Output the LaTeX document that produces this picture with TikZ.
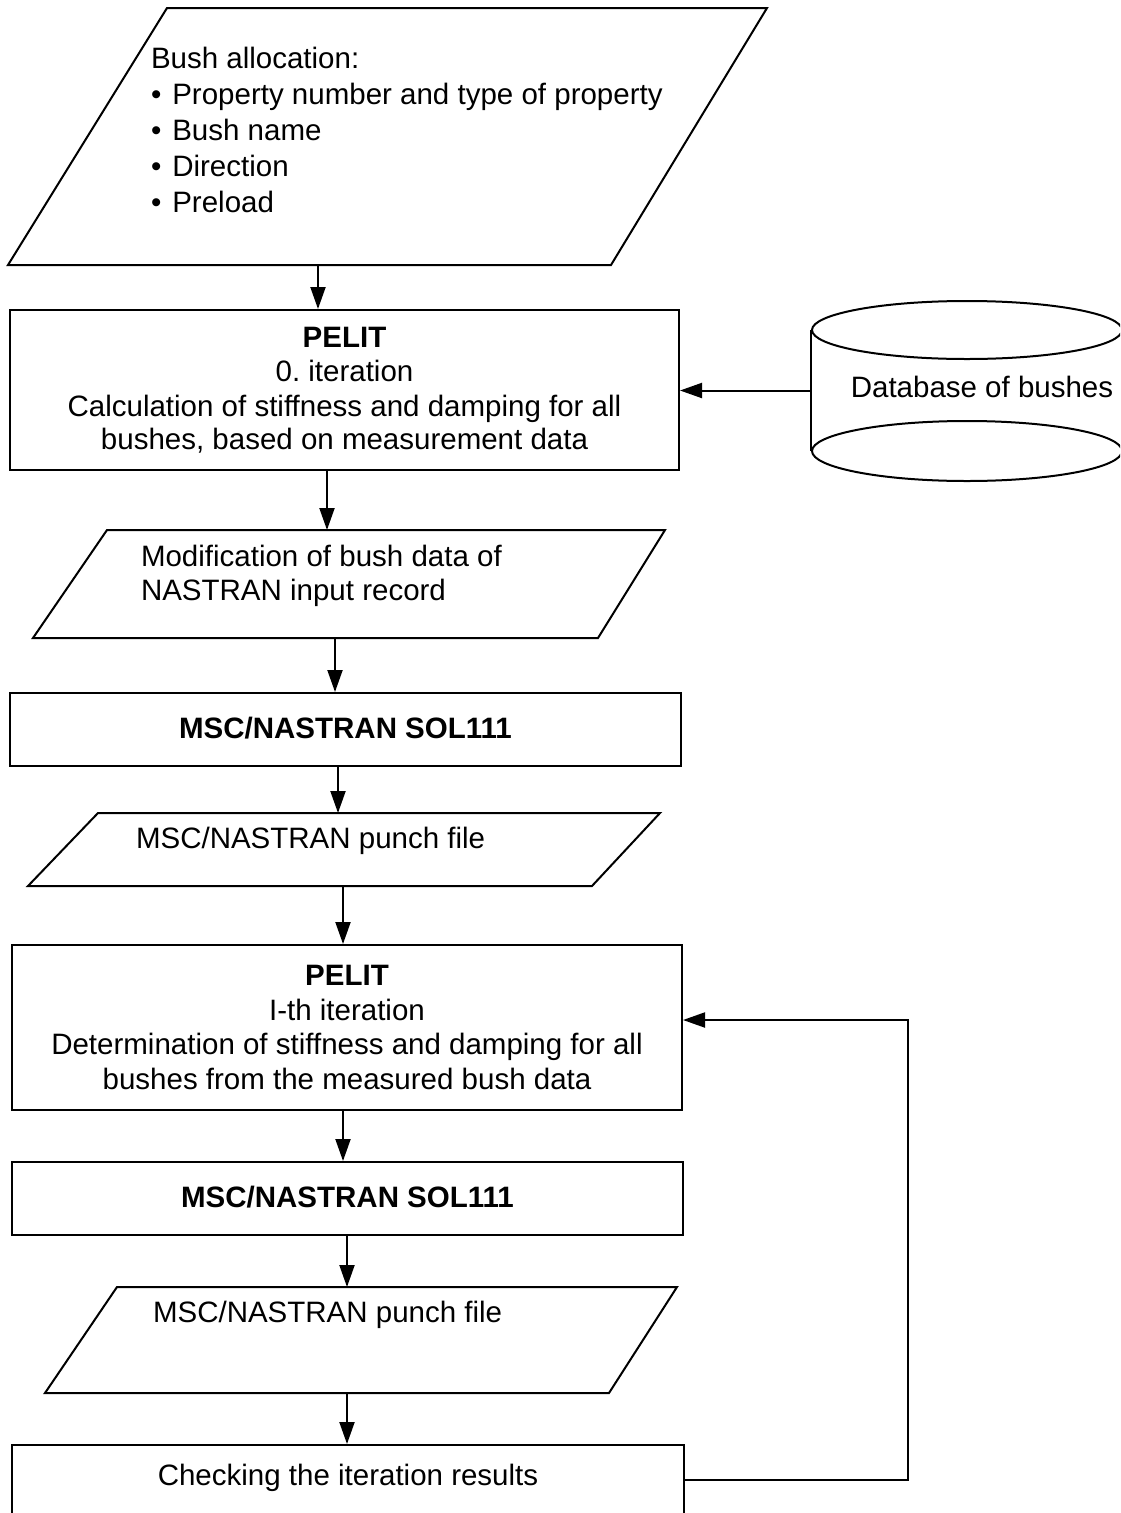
\documentclass[tikz,border=0pt]{standalone}
\usepackage{fontspec}
\setmainfont{Liberation Sans}
\usetikzlibrary{arrows.meta}
\frenchspacing
\begin{document}
\begin{tikzpicture}[x=1pt,y=-1pt, line width=2pt,
  arr/.style={-{Triangle[length=22pt,width=15pt]}},
  box/.style={draw, rectangle, inner sep=0pt, align=center},
  txt/.style={inner sep=0pt, font=\fontsize{29.5}{34.5}\selectfont}]
\useasboundingbox (0,0) rectangle (1120,1513);
\clip (0,0) rectangle (1120,1513);

% input parallelogram
\draw (8,265) -- (611,265) -- (767,8) -- (167,8) -- cycle;
\node[txt, anchor=west, align=left, font=\fontsize{29.5}{36}\selectfont] (t1) at (150,130)
  {Bush allocation:\\\textbullet\hspace{11pt}Property number and type of property\\\textbullet\hspace{11pt}Bush name\\\textbullet\hspace{11pt}Direction\\\textbullet\hspace{11pt}Preload};
\coordinate (p1b) at (318,265);

% PELIT 0
\node[box, txt, minimum width=669, minimum height=160] (pelit1) at (344.5,390)
  {\raisebox{-3pt}{\textbf{PELIT}}\\\raisebox{-3pt}{0. iteration}\\\raisebox{-3pt}{Calculation of stiffness and damping for all}\\\raisebox{-2pt}{bushes, based on measurement data}};
\draw[arr] (p1b) -- (p1b |- pelit1.north);

% database
\node[inner sep=0pt, minimum width=310, minimum height=119] (db) at (967,390.5) {};
\draw (db.north west) -- (db.south west);
\draw (db.north east) -- (db.south east);
\draw (db.north) ellipse [x radius=155, y radius=29];
\draw (db.south) ellipse [x radius=155, y radius=30];
\node[txt] (dbt) at (982,387) {Database of bushes};
\draw[arr] (db.west) -- (db.west -| pelit1.east);

% modification parallelogram
\draw (33,638) -- (598,638) -- (665,530) -- (107,530) -- cycle;
\node[txt, anchor=west, align=left] (t2) at (140,576) {Modification of bush data of\\NASTRAN input record};
\coordinate (p2t) at (327,530);
\coordinate (p2b) at (335,638);
\draw[arr] (pelit1.south -| p2t) -- (p2t);

% MSC 1
\node[box, txt, minimum width=671, minimum height=73] (msc1) at (345.5,729.5) {\raisebox{3pt}{\textbf{MSC/NASTRAN SOL111}}};
\draw[arr] (p2b) -- (p2b |- msc1.north);

% punch file 1
\draw (28,886) -- (592,886) -- (660,813) -- (98,813) -- cycle;
\node[txt, anchor=west] (t3) at (135,841) {MSC/NASTRAN punch file};
\coordinate (p3t) at (338,813);
\coordinate (p3b) at (343,886);
\draw[arr] (msc1.south -| p3t) -- (p3t);

% PELIT I
\node[box, txt, minimum width=670, minimum height=165] (pelit2) at (347,1027.5)
  {\textbf{PELIT}\\I-th iteration\\Determination of stiffness and damping for all\\bushes from the measured bush data};
\draw[arr] (p3b) -- (p3b |- pelit2.north);

% MSC 2
\node[box, txt, minimum width=671, minimum height=73] (msc2) at (347.5,1198.5) {\raisebox{3pt}{\textbf{MSC/NASTRAN SOL111}}};
\coordinate (a6) at (343,1110);
\draw[arr] (a6) -- (a6 |- msc2.north);

% punch file 2
\draw (45,1393) -- (609,1393) -- (677,1287) -- (117,1287) -- cycle;
\node[txt, anchor=west] (t4) at (152,1315) {MSC/NASTRAN punch file};
\coordinate (p4t) at (347,1287);
\coordinate (p4b) at (347,1393);
\draw[arr] (msc2.south -| p4t) -- (p4t);

% checking
\node[box, txt, minimum width=672, minimum height=70] (chk) at (348,1480) {\raisebox{10pt}{Checking the iteration results}};
\draw[arr] (p4b) -- (p4b |- chk.north);

% feedback loop
\coordinate (fb) at (908,1020);
\draw[arr] (chk.east) -| (fb) -- (fb -| pelit2.east);
\end{tikzpicture}
\end{document}
